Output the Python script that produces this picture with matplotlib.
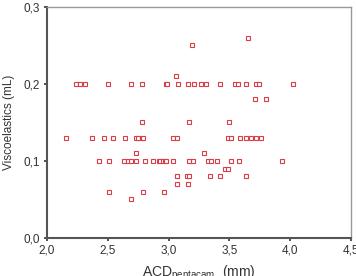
import matplotlib
matplotlib.use("Agg")
import matplotlib.pyplot as plt
from matplotlib.ticker import FuncFormatter

plt.rcParams['font.family'] = ['Liberation Sans', 'DejaVu Sans']

# ACD (mm) vs viscoelastic volume (mL)
acd = [2.24, 2.27, 2.31, 2.50, 2.69, 2.78, 2.98, 2.99, 3.08, 3.16, 3.21, 3.27, 3.31, 3.42,
       3.55, 3.57, 3.64, 3.72, 3.74, 4.02,
       3.06, 3.19, 3.65, 3.71, 3.80, 2.78, 3.17, 3.50,
       2.16, 2.37, 2.47, 2.54, 2.64, 2.73, 2.75, 2.78, 2.79, 3.04, 3.07, 3.49, 3.51, 3.59,
       3.64, 3.68, 3.72, 3.76,
       2.73, 3.29,
       2.43, 2.51, 2.63, 2.67, 2.69, 2.73, 2.81, 2.87, 2.92, 2.93, 2.95, 2.97, 2.98, 3.04,
       3.17, 3.20, 3.32, 3.35, 3.40, 3.51, 3.58, 3.93,
       3.46, 3.49,
       3.07, 3.15, 3.17, 3.34, 3.42, 3.64,
       3.07, 3.16,
       2.51, 2.79, 2.96,
       2.69]
visco = [0.20] * 20 + \
        [0.21, 0.25, 0.26, 0.18, 0.18, 0.15, 0.15, 0.15] + \
        [0.13] * 18 + \
        [0.11, 0.11] + \
        [0.10] * 22 + \
        [0.09, 0.09] + \
        [0.08] * 6 + \
        [0.07, 0.07] + \
        [0.06] * 3 + \
        [0.05]

fig = plt.figure(figsize=(3.56, 2.76), dpi=100)
ax = fig.add_axes([0.132, 0.138, 0.854, 0.837])

ax.plot(acd, visco, linestyle='none', marker='s', markersize=3.0,
        markerfacecolor='white', markeredgecolor='#dc3c48', markeredgewidth=0.8)

ax.set_xlim(2.0, 4.5)
ax.set_ylim(0.0, 0.3)
ax.set_xticks([2.0, 2.5, 3.0, 3.5, 4.0, 4.5])
ax.set_yticks([0.0, 0.1, 0.2, 0.3])
comma = FuncFormatter(lambda v, p: ('%.1f' % v).replace('.', ','))
ax.xaxis.set_major_formatter(comma)
ax.yaxis.set_major_formatter(comma)
ax.tick_params(direction='out', length=2, width=1.2, colors='#333333',
               labelsize=8.5, pad=3)

for s in ['left', 'bottom']:
    ax.spines[s].set_color('#555555')
    ax.spines[s].set_linewidth(1.5)
for s in ['top', 'right']:
    ax.spines[s].set_color('#999999')
    ax.spines[s].set_linewidth(1.0)

ax.set_ylabel('Viscoelastics (mL)', fontsize=8.5, color='#333333', labelpad=6)
ax.set_xlabel('ACD$_{\\mathregular{pentacam}}$  (mm)', fontsize=10, color='#333333',
              labelpad=5)

fig.savefig('out.png', dpi=100)
